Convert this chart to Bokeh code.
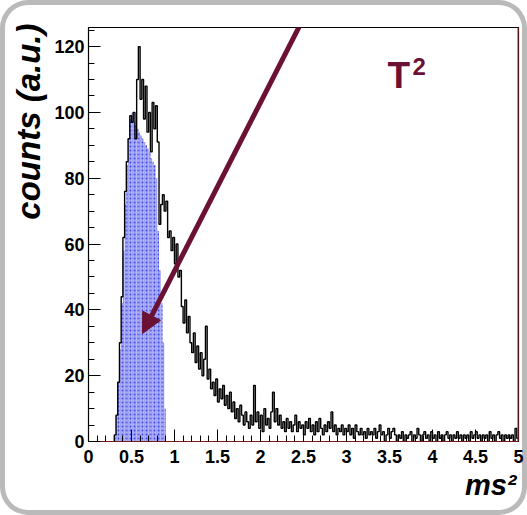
import numpy as np
from bokeh.plotting import figure
from bokeh.models import (Range1d, SingleIntervalTicker, NumeralTickFormatter, Label,
                          Arrow, NormalHead, Span, Title, ColumnDataSource)
from bokeh.embed import file_html
from bokeh.resources import INLINE

# ---------------- data ----------------
bin_width = 0.02
hist_start = 0.30
# black histogram (counts per bin, bins from 0.30 to 5.00)
counts = [
    2, 8, 18, 30, 44, 62, 76, 85, 92, 99,            # 0.30-0.48
    97, 100, 92, 110, 120, 104, 110, 98, 108, 94,    # 0.50-0.68
    100, 88, 103, 95, 102, 91, 66, 72, 75, 70,       # 0.70-0.88
    73, 62, 64, 58, 62, 54, 60, 50, 52, 41,          # 0.90-1.08
    36, 43, 33, 38, 30, 27, 33, 24, 29, 22,          # 1.10-1.28
    27, 20, 25, 35, 19, 22, 16, 18, 14, 19,          # 1.30-1.48
    12, 16, 13, 17, 11, 14, 10, 15, 9, 12,           # 1.50-1.68
    7, 10, 6, 11, 8, 5, 9, 6, 4, 8,                  # 1.70-1.88
    5, 17, 6, 9, 4, 8, 3, 10, 5, 7,                  # 1.90-2.08
    4, 9, 15, 6, 10, 5, 8, 4, 6, 3,                  # 2.10-2.28
    7, 4, 6, 3, 5, 8, 3, 6, 4, 5,                    # 2.30-2.48
    2, 6, 4, 7, 3, 5, 2, 6, 3, 7,                    # 2.50-2.68
    4, 2, 5, 3, 6, 4, 9, 3, 5, 2,                    # 2.70-2.88
    4, 3, 5, 2, 4, 3, 5, 2, 4, 1,                    # 2.90-3.08
    5, 3, 2, 4, 2, 3, 1, 4, 2, 3,                    # 3.10-3.28
    2, 4, 1, 3, 5, 2, 3, 0, 2, 4,                    # 3.30-3.48
    1, 3, 4, 2, 0, 2, 1, 3, 0, 2,                    # 3.50-3.68
    1, 2, 3, 0, 2, 1, 4, 2, 0, 2,                    # 3.70-3.88
    3, 1, 2, 0, 3, 1, 2, 0, 3, 1,                    # 3.90-4.08
    2, 0, 2, 3, 1, 2, 0, 2, 1, 3,                    # 4.10-4.28
    1, 2, 0, 2, 1, 2, 0, 3, 1, 2,                    # 4.30-4.48
    3, 1, 2, 0, 2, 1, 2, 0, 3, 1,                    # 4.50-4.68
    2, 0, 2, 3, 1, 2, 0, 2, 1, 2,                    # 4.70-4.88
    1, 2, 0, 4, 1,                                   # 4.90-4.98
]
# blue (selected) region, bins from 0.30 to 0.90
blue_start = 0.30
blue_counts = [
    2, 8, 18, 28, 42, 58, 72, 84, 92, 98,
    100, 97, 96, 95, 94, 93, 92, 91, 90, 89,
    88, 86, 85, 84, 80, 64, 52, 42, 30, 10,
]
x_min, x_max = 0, 5
y_min, y_max = 0, 125.8
x_major, x_minor_n = 0.5, 5
y_major, y_minor_n = 20, 4
arrow_from = (2.605, 134.0)
arrow_to = (0.628, 32.8)
maroon = "#6b1134"

# ---------------- figure ----------------
p = figure(width=527, height=515, output_backend="svg", toolbar_location=None,
           x_range=Range1d(x_min, x_max), y_range=Range1d(y_min, y_max),
           min_border_left=88, min_border_right=9, min_border_top=27, min_border_bottom=74,
           background_fill_color="white", border_fill_alpha=0)
p.styles = {"box-shadow": "inset 0 0 0 5px #bababa", "border-radius": "28px"}
p.grid.visible = False
p.outline_line_color = "black"
p.outline_line_width = 1.2

# blue region
bl = blue_start + bin_width * np.arange(len(blue_counts))
blue_src = ColumnDataSource(dict(left=bl, right=bl + bin_width, top=blue_counts,
                                 bottom=np.zeros(len(blue_counts))))
p.quad(left="left", right="right", top="top", bottom="bottom", source=blue_src,
       fill_color="#9da1f3", line_color=None,
       hatch_pattern="dot", hatch_color="#3d44e6", hatch_scale=4, hatch_weight=1.2)

# black histogram outline
edges = hist_start + bin_width * np.arange(len(counts) + 1)
xs = np.concatenate([[edges[0]], np.repeat(edges, 2)[1:-1], [edges[-1]]])
ys = np.concatenate([[0], np.repeat(counts, 2), [0]])
p.line(xs, ys, line_color="black", line_width=1.4)

# right frame edge (reddish)
p.add_layout(Span(location=x_max, dimension="height", line_color="#b03030", line_width=2))

# axes
font = "Liberation Sans"
xa = p.xaxis[0]
xa.ticker = SingleIntervalTicker(interval=x_major, num_minor_ticks=x_minor_n)
xa.formatter = NumeralTickFormatter(format="0.[0]")
ya = p.yaxis[0]
ya.ticker = SingleIntervalTicker(interval=y_major, num_minor_ticks=y_minor_n)
for ax in (xa, ya):
    ax.major_tick_in = 12
    ax.major_tick_out = 0
    ax.minor_tick_in = 6
    ax.minor_tick_out = 0
    ax.major_tick_line_color = "black"
    ax.minor_tick_line_color = "black"
    ax.major_label_text_font = font
    ax.major_label_text_font_style = "bold"
    ax.major_label_text_font_size = "18px"
    ax.major_label_text_color = "black"
xa.axis_line_color = "#7a1a1a"
ya.axis_line_color = "black"
xa.major_label_standoff = 8
ya.major_label_standoff = 4

# axis titles (ROOT style, aligned to the axis end)
p.add_layout(Title(text="counts (a.u.)", align="right", offset=-4, standoff=9,
                   text_font=font, text_font_style="bold italic", text_font_size="33px",
                   text_color="black"), "left")
p.add_layout(Title(text="ms²", align="right", offset=2, standoff=3,
                   text_font=font, text_font_style="bold italic", text_font_size="29px",
                   text_color="black"), "below")

# T^2 annotation
p.add_layout(Label(x=3.477, y=111.2, text="T", text_font=font, text_font_style="bold",
                   text_font_size="37px", text_color=maroon, text_align="left",
                   text_baseline="middle"))
p.add_layout(Label(x=3.767, y=113.8, text="2", text_font=font, text_font_style="bold",
                   text_font_size="24px", text_color=maroon, text_align="left",
                   text_baseline="middle"))

# arrow
p.add_layout(Arrow(x_start=arrow_from[0], y_start=arrow_from[1],
                   x_end=arrow_to[0], y_end=arrow_to[1],
                   line_color=maroon, line_width=5,
                   end=NormalHead(size=20, fill_color=maroon, line_color=maroon, line_width=1)))

open("out.html", "w").write(file_html(p, INLINE))
